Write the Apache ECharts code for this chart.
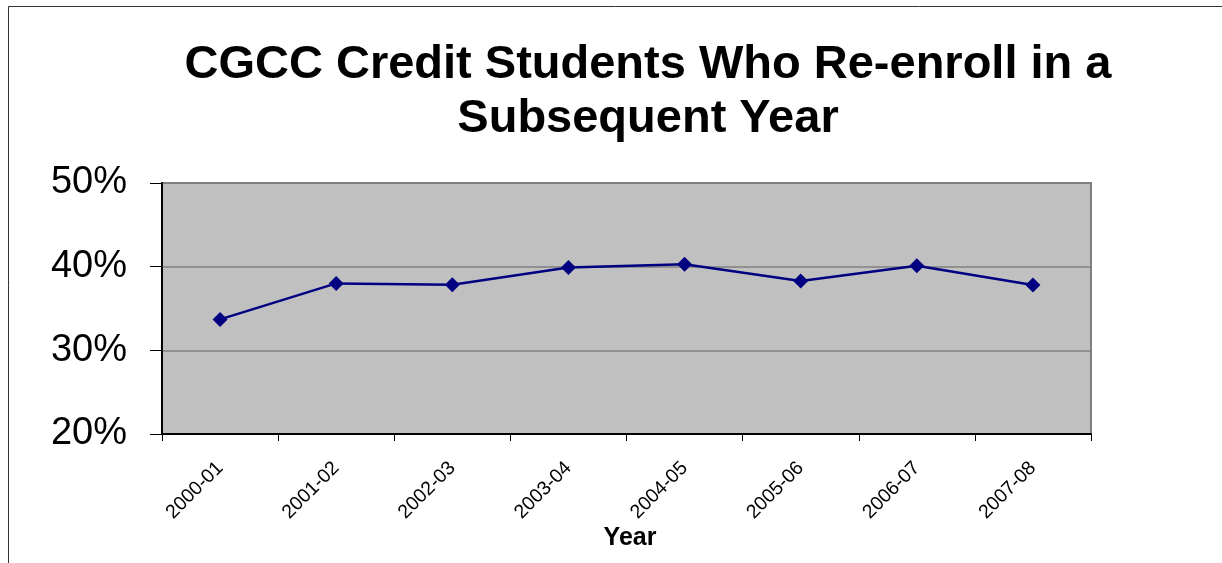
<!DOCTYPE html>
<html>
<head>
<meta charset="utf-8">
<script src="https://cdn.jsdelivr.net/npm/echarts@6/dist/echarts.min.js"></script>
<style>
html,body{margin:0;padding:0;background:#fff;}
#chart{width:1222px;height:563px;}
</style>
</head>
<body>
<div id="chart"></div>
<script>
const titleText = 'CGCC Credit Students Who Re-enroll in a\nSubsequent Year';
const categories = ['2000-01','2001-02','2002-03','2003-04','2004-05','2005-06','2006-07','2007-08'];
const values = [33.7, 38.0, 37.85, 39.9, 40.3, 38.3, 40.1, 37.8];
const yTicks = [20, 30, 40, 50];
const xAxisTitle = 'Year';

const font = '"Liberation Sans", Arial, sans-serif';
const chart = echarts.init(document.getElementById('chart'), null, {renderer: 'canvas'});
chart.setOption({
  animation: false,
  backgroundColor: '#ffffff',
  title: {
    text: titleText,
    left: 643,
    top: 33,
    textAlign: 'center',
    textStyle: {fontFamily: font, fontSize: 47, fontWeight: 'bold', color: '#000', lineHeight: 54}
  },
  graphic: [{
    type: 'rect',
    shape: {x: 8.5, y: 6.5, width: 1300, height: 700},
    style: {fill: 'none', stroke: '#333', lineWidth: 1},
    silent: true
  }],
  grid: {
    left: 162, top: 183, width: 929, height: 251,
    show: true, backgroundColor: '#C0C0C0', borderColor: '#808080', borderWidth: 2
  },
  xAxis: {
    type: 'category',
    data: categories,
    boundaryGap: true,
    name: xAxisTitle,
    nameLocation: 'middle',
    nameGap: 90,
    nameTextStyle: {fontFamily: font, fontSize: 25, fontWeight: 'bold', color: '#000', padding: [0, 0, 0, 7]},
    axisLine: {show: true, lineStyle: {color: '#000', width: 2}},
    axisTick: {show: true, alignWithLabel: false, length: 7, lineStyle: {color: '#000', width: 1}},
    axisLabel: {rotate: 45, margin: 31, fontFamily: font, fontSize: 19.5, color: '#000', interval: 0},
    splitLine: {show: false}
  },
  yAxis: {
    type: 'value',
    min: yTicks[0],
    max: yTicks[yTicks.length - 1],
    interval: 10,
    axisLine: {show: true, lineStyle: {color: '#000', width: 2}},
    axisTick: {show: true, inside: false, length: 12, lineStyle: {color: '#000', width: 1}},
    axisLabel: {formatter: '{value}%', margin: 35, fontFamily: font, fontSize: 38, color: '#000', padding: [4, 0, 0, 0]},
    splitLine: {show: true, lineStyle: {color: '#808080', width: 1.5}}
  },
  series: [{
    type: 'line',
    data: values,
    symbol: 'diamond',
    symbolSize: 15,
    lineStyle: {color: '#000080', width: 2.5},
    itemStyle: {color: '#000080'}
  }]
});
</script>
</body>
</html>
